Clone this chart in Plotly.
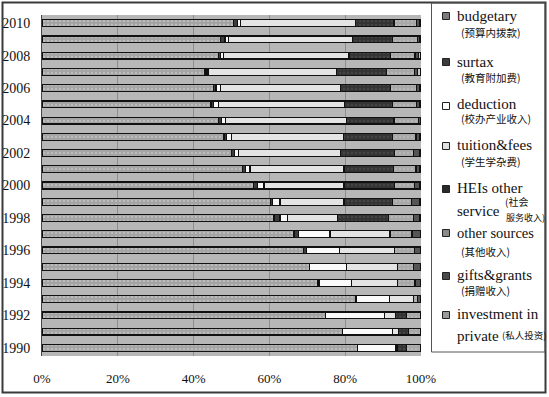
import plotly.graph_objects as go

years = list(range(1990, 2011))
budgetary = [83.3, 79.3, 74.9, 82.8, 72.6, 70.5, 69.0, 66.5, 61.2, 60.2, 55.9, 52.9, 50.0, 48.0, 46.5, 44.6, 45.2, 43.0, 46.5, 47.1, 50.5]
surtax = [0, 0, 0, 0.1, 0.5, 0.1, 0.8, 1.2, 1.6, 0.7, 0.9, 0.7, 0.7, 0.7, 0.9, 0.6, 0.7, 0.4, 0.7, 1.2, 1.0]
deduction = [10.1, 13.2, 15.4, 8.7, 8.6, 9.8, 8.8, 8.3, 1.9, 1.9, 1.8, 1.3, 1.1, 1.2, 1.1, 1.3, 1.1, 0.4, 0.6, 0.9, 0.9]
tuition = [0.3, 1.5, 3.0, 6.4, 12.0, 13.3, 14.4, 15.8, 13.3, 16.9, 21.1, 24.8, 27.0, 29.6, 31.9, 33.3, 31.8, 33.8, 33.2, 32.8, 30.4]
heis_service = [2.5, 2.7, 2.9, 0, 0, 0, 0, 0, 13.4, 12.8, 13.4, 13.0, 14.2, 13.0, 12.5, 12.7, 13.2, 13.3, 11.0, 10.4, 10.1]
other_sources = [3.8, 3.3, 3.8, 1.0, 4.7, 4.3, 5.2, 5.8, 6.6, 5.0, 5.1, 6.0, 5.0, 6.2, 6.4, 6.4, 6.9, 7.3, 6.4, 6.6, 6.0]
gifts_grants = [0, 0, 0, 1.0, 1.6, 2.0, 1.8, 2.2, 1.6, 2.0, 1.4, 0.9, 1.7, 0.9, 0.5, 0.7, 0.7, 0.8, 0.9, 0.6, 0.7]
investment_private = [0, 0, 0, 0, 0, 0, 0, 0.2, 0.4, 0.5, 0.4, 0.4, 0.3, 0.4, 0.2, 0.4, 0.4, 1.0, 0.7, 0.4, 0.4]

x_ticks = [0, 20, 40, 60, 80, 100]
x_tick_labels = ["0%", "20%", "40%", "60%", "80%", "100%"]
year_ticks = list(range(1990, 2011, 2))

series = [
    ("budgetary", budgetary, dict(color="#a9a9a9", pattern=dict(shape=".", fgcolor="#d6d6d6", bgcolor="#a4a4a4", size=4, solidity=0.25))),
    ("surtax", surtax, dict(color="#3c3c3c")),
    ("deduction", deduction, dict(color="#fafafa")),
    ("tuition&fees", tuition, dict(color="#e4e4e4")),
    ("HEIs other service", heis_service, dict(color="#353535", pattern=dict(shape=".", fgcolor="#555555", bgcolor="#333333", size=4, solidity=0.3))),
    ("other sources", other_sources, dict(color="#ababab", pattern=dict(shape=".", fgcolor="#cccccc", bgcolor="#a8a8a8", size=4, solidity=0.2))),
    ("gifts&grants", gifts_grants, dict(color="#555555")),
    ("investment in private", investment_private, dict(color="#c8c8c8")),
]

fig = go.Figure()
for name, vals, mk in series:
    v = [x if x > 0 else None for x in vals]
    marker = dict(mk)
    marker["line"] = dict(color="#111111", width=1.2)
    fig.add_trace(go.Bar(x=v, y=years, orientation="h", name=name, marker=marker, width=0.42, showlegend=False))

L, R, T, B = 42, 421, 15, 356
W, H = 549, 397
def px(x):
    return (x - L) / (R - L)
def py(y):
    return (B - y) / (B - T)

shapes = []
# outer frame
shapes.append(dict(type="rect", xref="paper", yref="paper", x0=px(2.5), x1=px(545.5), y0=py(392.5), y1=py(2.5),
                   line=dict(color="#3a3a3a", width=2), layer="above"))
# legend box
shapes.append(dict(type="rect", xref="paper", yref="paper", x0=px(431.5), x1=px(545), y0=py(352), y1=py(3),
                   line=dict(color="#555555", width=1), layer="above"))

legend_fill = ["#7c7c7c", "#3c3c3c", "#ffffff", "#e0e0e0", "#2a2a2a", "#8a8a8a", "#4a4a4a", "#9a9a9a"]
marker_y = [16, 62, 106, 146, 189, 233, 276, 315]
for fc, yy in zip(legend_fill, marker_y):
    shapes.append(dict(type="rect", xref="paper", yref="paper", x0=px(442.5), x1=px(449.5), y0=py(yy + 3.5), y1=py(yy - 3.5),
                       line=dict(color="#222222", width=1), fillcolor=fc, layer="above"))

SERIF = "Liberation Serif"
CJK = "Noto Sans CJK SC"
ann = []
def txt(x, y, s, size, font, xanchor="left"):
    ann.append(dict(x=px(x), y=py(y), xref="paper", yref="paper", text=s, showarrow=False,
                    xanchor=xanchor, yanchor="middle", font=dict(family=font, size=size, color="#111111")))

txt(455, 16, "budgetary", 15, SERIF)
txt(459, 33, "(预算内拨款)", 10.5, CJK)
txt(455, 62, "surtax", 15, SERIF)
txt(459, 78, "(教育附加费)", 10.5, CJK)
txt(455, 104, "deduction", 15, SERIF)
txt(459, 119, "(校办产业收入)", 10.5, CJK)
txt(455, 145, "tuition&fees", 15, SERIF)
txt(459, 162, "(学生学杂费)", 10.5, CJK)
txt(455, 188, "HEIs other", 15, SERIF)
txt(455, 211, "service", 15, SERIF)
txt(503, 202, "(社会", 10, CJK)
txt(504, 217.5, "服务收入)", 9, CJK)
txt(455, 233, "other sources", 14.5, SERIF)
txt(459, 251, "(其他收入)", 10.5, CJK)
txt(455, 275, "gifts&grants", 15, SERIF)
txt(459, 290, "(捐赠收入)", 10.5, CJK)
txt(455, 314, "investment in", 15, SERIF)
txt(455, 336, "private", 15, SERIF)
txt(500, 335, "(私人投资)", 9.5, CJK)

fig.update_layout(
    width=W, height=H,
    margin=dict(l=L, r=W - R, t=T, b=H - B, autoexpand=False),
    barmode="stack",
    bargap=0.58,
    paper_bgcolor="#ffffff",
    plot_bgcolor="#b7b7b7",
    shapes=shapes,
    annotations=ann,
    showlegend=False,
)
fig.update_xaxes(range=[0, 100], tickvals=x_ticks, ticktext=x_tick_labels, showgrid=True, gridcolor="#8e8e8e", gridwidth=1,
                 zeroline=False, showline=False, ticks="", ticklabelstandoff=13, automargin=False,
                 tickfont=dict(family=SERIF, size=13, color="#111111"))
fig.update_yaxes(range=[1989.5, 2010.5], tickvals=year_ticks, showgrid=False, zeroline=False,
                 showline=True, linecolor="#444444", linewidth=1, ticks="", ticklabelstandoff=8, automargin=False,
                 tickfont=dict(family=SERIF, size=14, color="#111111"))

fig.write_html("out.html", config={"displayModeBar": False},
               post_script="document.body.style.margin='0px';document.body.style.overflow='hidden';")
